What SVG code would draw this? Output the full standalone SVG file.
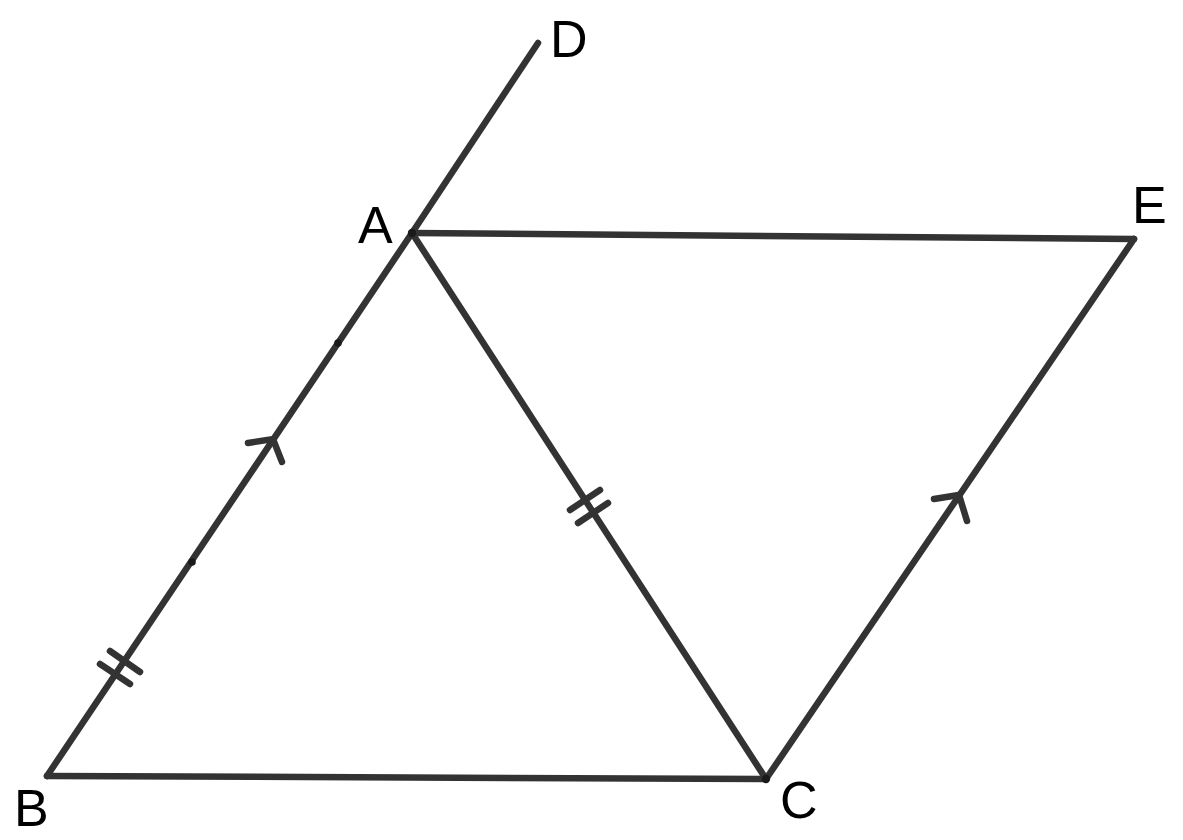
<svg xmlns="http://www.w3.org/2000/svg" width="1183" height="840" viewBox="0 0 1183 840">
<style>
.l{stroke:#333333;stroke-width:6.5;stroke-linecap:round;fill:none}
.t{stroke:#333333;stroke-width:6.5;stroke-linecap:round;fill:none}
.p{fill:#1a1a1a}
.lb{font-family:"Liberation Sans",Arial,sans-serif;font-size:52px;fill:#000}
</style>
<rect width="1183" height="840" fill="#fff"/>
<g id="connectors">
<line class="l" x1="412" y1="233" x2="538" y2="43"/>
<line class="l" x1="412" y1="233" x2="1134" y2="239"/>
<line class="l" x1="412" y1="233" x2="47" y2="776"/>
<line class="l" x1="47" y1="776" x2="766" y2="779"/>
<line class="l" x1="412" y1="233" x2="766" y2="779"/>
<line class="l" x1="766" y1="779" x2="1134" y2="239"/>
<line class="t" x1="110" y1="651" x2="140" y2="672"/>
<line class="t" x1="100" y1="664" x2="130" y2="684"/>
<line class="t" x1="570" y1="510" x2="600" y2="490"/>
<line class="t" x1="578" y1="523" x2="608" y2="503"/>
<polyline class="t" points="248,443 273,439 282,462"/>
<polyline class="t" points="934,499 959,495 967,521"/>
</g>
<g id="dots">
<circle class="p" cx="192" cy="562" r="3.8"/>
<circle class="p" cx="338" cy="343" r="3.8"/>
<circle class="p" cx="412" cy="233" r="4.2"/>
<circle class="p" cx="766" cy="779" r="4.2"/>
</g>
<g id="node-A"><text class="lb" x="358" y="243">A</text></g>
<g id="node-D"><text class="lb" x="550" y="57">D</text></g>
<g id="node-E"><text class="lb" x="1132" y="223">E</text></g>
<g id="node-B"><text class="lb" x="14" y="826">B</text></g>
<g id="node-C"><text class="lb" x="780" y="818">C</text></g>
</svg>
